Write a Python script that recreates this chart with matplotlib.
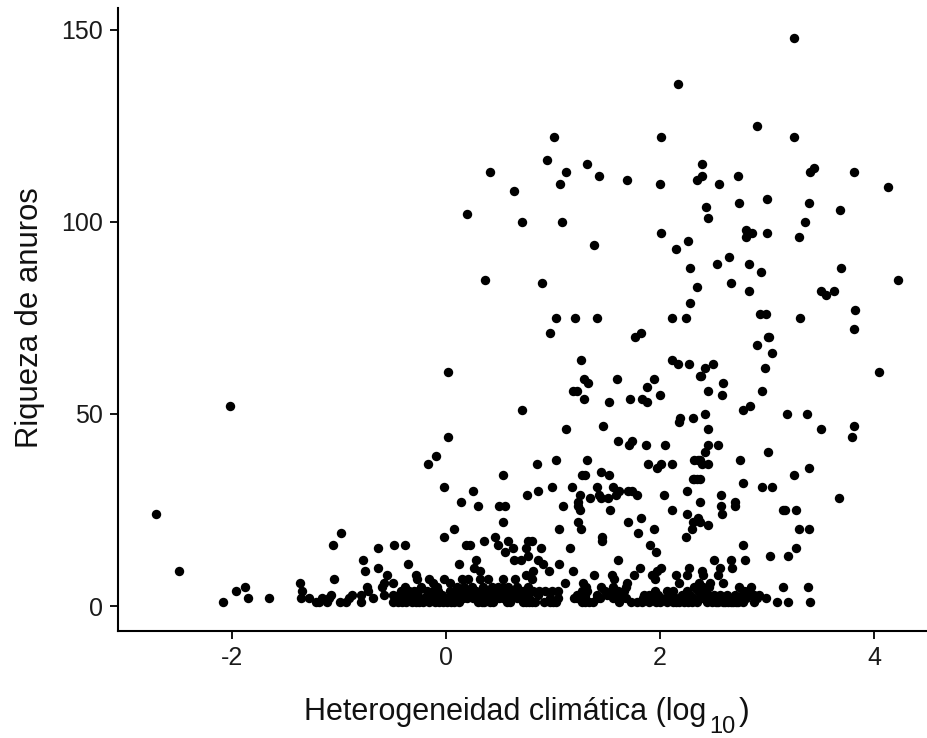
import matplotlib
matplotlib.use("Agg")
import matplotlib.pyplot as plt

plt.rcParams['font.family'] = ['Liberation Sans', 'DejaVu Sans']
plt.rcParams['axes.unicode_minus'] = False

x_rich1 = [-2.08,-1.21,-1.18,-1.11,-0.99,-0.93,-0.79,-0.49,-0.45,-0.41,-0.37,-0.32,-0.21,-0.16,-0.10,-0.06,0.01,0.08,
           0.30,0.36,0.41,0.57,0.75,0.80,0.83,1.00,1.27,1.34,1.62,1.73,1.78,1.83,1.90,1.96,2.06,2.12,2.18,2.26,2.34,
           2.48,2.54,2.59,2.63,2.68,2.73,2.77,2.88,3.09,3.19,3.40,
           -0.28,-0.25,-0.03,0.05,0.12,0.34,0.44,0.60,0.72,0.78,0.92,0.97,1.03,1.30,1.37,2.00,2.15,2.22,2.30,2.44,2.52,2.61,2.66,2.71]
x_rich2 = [-1.85,-1.65,-1.35,-1.28,-1.16,-1.09,-0.90,-0.68,-0.40,-0.34,-0.31,-0.29,-0.20,-0.12,-0.02,0.07,0.16,0.29,0.38,
           0.46,0.53,0.60,0.72,0.78,0.97,1.05,1.20,1.30,1.41,1.56,1.64,1.84,1.93,2.01,2.10,2.21,2.24,2.31,2.37,2.40,2.51,
           2.70,2.90,2.99,
           -0.37,-0.25,-0.16,-0.07,0.02,0.11,0.20,0.25,0.33,0.42,0.50,0.56,0.66,0.75,1.22,1.24,1.44,1.60,1.68,2.06,2.14,2.18,2.28,2.44,2.48,2.55,2.60,2.65,2.74,2.80]
x_rich3 = [-1.07,-0.88,-0.79,-0.58,-0.49,0.15,0.69,1.22,1.41,1.65,1.90,2.28,2.56,2.70,2.88,2.92,
           -0.44,-0.36,-0.27,-0.15,-0.04,0.09,0.22,0.34,0.40,0.48,0.55,0.62,0.74,0.86,1.30,1.50,1.58,1.85,1.98,2.20,2.38,2.45,2.50,2.62,2.76,2.84]
x_rich4 = [-1.96,-1.34,-0.73,-0.34,-0.26,-0.30,-0.07,0.04,0.81,0.87,0.93,0.99,1.05,1.27,1.61,1.95,2.12,2.35,
           -0.42,-0.18,-0.12,0.10,0.20,0.28,0.38,0.45,0.52,0.58,0.65,0.72,0.76,1.32,1.49,1.55,1.66,2.06,2.25,2.42,2.78,2.82]
x_rich5 = [-1.87,-0.74,-0.60,-0.38,-0.23,0.24,0.35,0.43,0.49,0.58,0.77,1.45,1.56,2.32,2.34,2.74,2.85,3.15,3.38,
           -0.08,0.10,0.17,0.53,0.66,1.31,1.68,2.40,2.46]

x_other = [-2.71,-2.49,-1.36,-1.04,-1.05,-0.98,-0.77,-0.75,-0.63,-0.63,-0.55,-0.58,-0.49,-0.48,-0.38,-0.35,-0.28,-0.27,
           -0.02,0.25,0.14,0.30,-0.02,0.08,0.19,0.23,0.36,0.50,0.55,0.53,0.46,0.49,0.58,0.63,0.55,0.76,0.86,0.99,1.18,
           1.09,1.06,0.77,0.80,0.75,0.89,1.16,0.77,0.64,0.70,0.86,0.91,0.12,0.28,0.26,0.32,1.06,0.96,1.19,0.81,0.75,
           -0.16,-0.02,-0.12,0.04,0.15,0.21,0.32,0.39,0.53,0.65,0.80,1.11,1.28,1.38,1.55,1.57,1.76,1.81,1.69,
           1.25,1.23,1.23,1.25,1.23,1.26,1.46,1.46,1.53,1.61,1.41,1.35,1.43,1.45,1.51,1.56,1.59,1.62,1.70,1.74,1.78,
           2.04,2.11,1.70,1.82,1.79,1.94,1.91,1.96,2.25,2.25,2.24,2.30,2.31,2.37,2.35,2.37,2.45,2.57,2.57,2.58,2.70,
           2.70,2.77,2.95,3.04,3.15,3.17,3.27,3.30,3.39,3.27,3.19,3.03,2.77,2.79,2.66,2.67,2.50,2.56,2.39,2.27,2.25,
           2.15,2.18,2.01,1.97,1.92,1.95,2.59,2.54,2.40,2.47,2.36,3.67]
y_other = [24,9,6,7,16,19,12,9,15,10,8,6,6,16,16,11,8,7,
           31,30,27,26,18,20,16,16,17,26,26,22,18,16,17,15,14,29,30,31,31,
           26,20,17,17,15,15,15,13,12,12,12,11,11,12,10,9,11,9,9,9,8,
           7,7,6,6,7,7,7,7,7,7,7,6,6,8,8,7,8,10,6,
           29,27,26,25,22,20,18,17,25,12,31,28,29,28,28,31,29,30,30,30,29,
           29,25,22,23,19,20,16,14,30,24,18,20,22,27,23,22,21,29,26,24,27,
           26,32,31,31,25,25,25,20,20,15,13,13,16,12,12,10,12,10,9,10,8,
           8,6,10,9,8,7,6,8,8,6,6,28]

x_mid = [0.02,0.02,-0.09,-0.17,0.71,1.12,1.47,1.26,1.29,1.33,1.19,1.22,1.29,1.52,1.60,1.72,1.83,1.88,1.88,1.94,2.00,
         2.11,2.17,2.27,2.37,2.19,2.18,2.31,1.61,1.74,1.71,1.87,2.05,1.32,1.03,0.85,0.53,1.27,1.30,1.45,1.52,1.89,1.97,
         2.01,2.11,2.32,2.35,2.31,2.34,4.04,3.81,3.79,3.50,3.18,3.37,2.95,2.84,2.77,2.98,3.04,2.90,3.02,2.59,2.58,2.45,
         2.38,2.42,2.49,2.42,2.45,2.45,2.54,2.42,2.37,2.39,2.45,2.75,3.01,3.25,3.39,2.32,2.37]
y_mid = [61,44,39,37,51,46,47,64,59,58,56,56,54,53,59,54,54,53,57,59,55,
         64,63,63,60,49,48,49,43,43,42,42,42,38,38,37,34,34,34,35,34,37,36,
         37,37,38,38,33,33,61,47,44,46,50,50,56,52,51,62,66,68,70,58,55,56,
         60,62,63,50,46,42,42,40,38,37,37,38,40,34,36,33,33]

x_high = [-2.01,3.25,2.17,2.90,1.01,0.94,2.01,3.25,0.41,1.12,1.07,1.32,1.43,1.69,2.00,2.39,2.39,2.34,2.55,2.73,3.00,3.40,
          3.44,3.81,4.13,4.22,0.20,0.64,0.71,1.08,1.38,0.37,0.90,0.97,1.03,1.21,1.41,1.77,1.82,2.01,2.15,2.26,2.28,2.34,
          2.28,2.24,2.11,2.43,2.45,2.53,2.64,2.66,2.74,2.80,2.80,2.86,3.00,2.83,2.83,2.94,2.93,2.99,3.01,3.35,3.30,3.31,
          3.39,3.68,3.69,3.50,3.55,3.62,3.82,3.81]
y_high = [52,148,136,125,122,116,122,122,113,113,110,115,112,111,110,115,112,111,110,112,106,113,
          114,113,109,85,102,108,100,100,94,85,84,71,75,75,75,70,71,97,93,95,88,83,
          79,75,75,104,101,89,91,84,105,98,96,97,97,89,82,87,76,76,70,100,96,75,
          105,103,88,82,81,82,77,72]

xticks = [-2, 0, 2, 4]
yticks = [0, 50, 100, 150]
xlabel_main = 'Heterogeneidad climática (log'
xlabel_sub = '10'
xlabel_end = ')'
ylabel = 'Riqueza de anuros'

W, H = 928, 738
fig = plt.figure(figsize=(W/100, H/100), dpi=100)
ax = fig.add_axes([118/W, 1 - 631/H, (W - 118)/W, (631 - 8)/H])

groups = [(x_rich1, [1]*len(x_rich1)), (x_rich2, [2]*len(x_rich2)), (x_rich3, [3]*len(x_rich3)),
          (x_rich4, [4]*len(x_rich4)), (x_rich5, [5]*len(x_rich5)),
          (x_other, y_other), (x_mid, y_mid), (x_high, y_high)]
for gx, gy in groups:
    ax.scatter(gx, gy, s=46, c='black', linewidths=0)

ax.set_xlim(-3.06, 4.50)
ax.set_ylim(-6.5, 155.7)
ax.set_xticks(xticks)
ax.set_yticks(yticks)
ax.spines['top'].set_visible(False)
ax.spines['right'].set_visible(False)
for s in ('left', 'bottom'):
    ax.spines[s].set_linewidth(1.5)
ax.tick_params(axis='both', length=5.8, width=1.3, labelsize=18, pad=5, colors='black', labelcolor='#1a1a1a')

ax.set_ylabel(ylabel, fontsize=22.3, color='#111111')
ax.yaxis.set_label_coords(45/W, 1 - 318/H, transform=fig.transFigure)

txt = dict(transform=fig.transFigure, va='baseline', ha='left', color='#111111')
fig.text(304/W, 1 - 720/H, xlabel_main, fontsize=22, **txt)
fig.text(709/W, 1 - 733/H, xlabel_sub, fontsize=17, **txt)
fig.text(739/W, 1 - 720/H, xlabel_end, fontsize=23, **txt)

fig.savefig('out.png', dpi=100)
